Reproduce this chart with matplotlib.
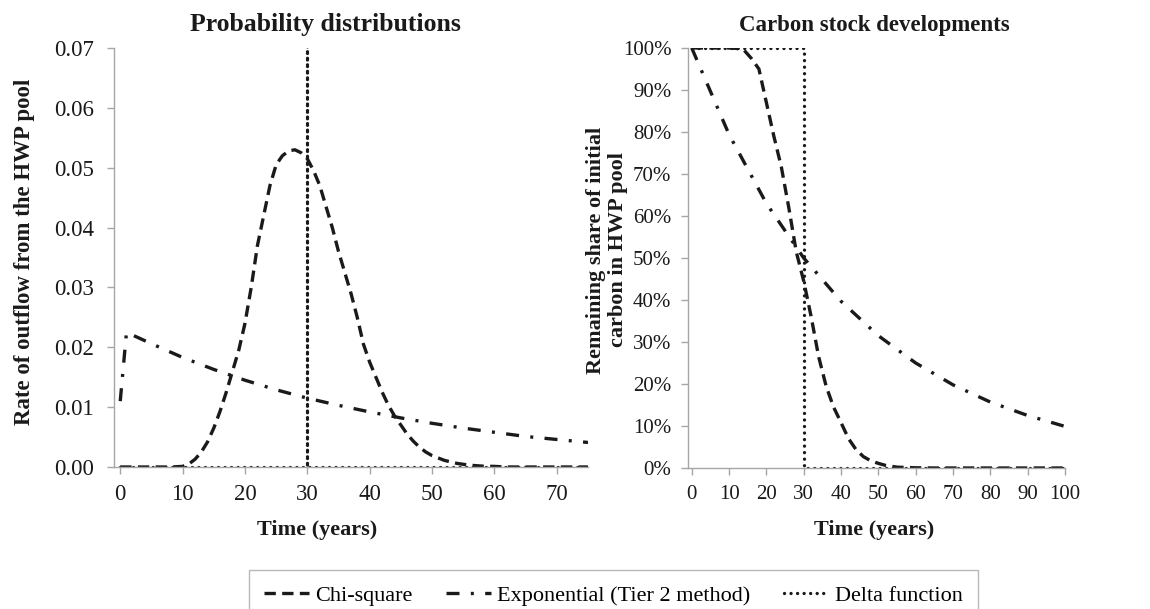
import matplotlib
matplotlib.use("Agg")
import matplotlib.pyplot as plt
from matplotlib.lines import Line2D
from matplotlib.ticker import FuncFormatter

plt.rcParams['font.family'] = ['Liberation Serif', 'DejaVu Serif']

# ---- Left panel: probability distributions ----
chi_pdf_x = [0, 2, 4, 6, 8, 10, 11, 12, 13, 14, 15, 16, 17, 18, 19, 20, 21, 22, 23, 24, 25,
             26, 27, 28, 29, 30, 31, 32, 33, 34, 35, 36, 37, 38, 39, 40, 41, 42, 43, 44,
             45, 46, 47, 48, 49, 50, 52, 54, 56, 58, 60, 62, 65, 70, 75]
chi_pdf_y = [0, 0, 0, 0, 0, 0.0001, 0.0005, 0.0013, 0.0025, 0.0042, 0.0065, 0.0093, 0.0125,
             0.016, 0.0195, 0.024, 0.030, 0.037, 0.042, 0.047, 0.0505, 0.052, 0.0528, 0.053,
             0.0525, 0.0515, 0.0495, 0.047, 0.0435, 0.040, 0.036, 0.0325, 0.029, 0.025, 0.0205,
             0.0175, 0.015, 0.0125, 0.0103, 0.0085, 0.007, 0.0055, 0.0043, 0.0033, 0.0025,
             0.0019, 0.0011, 0.0006, 0.0003, 0.00015, 0.0001, 0, 0, 0, 0]

exp_pdf_x = [0, 1, 5, 10, 15, 20, 25, 30, 35, 40, 45, 50, 55, 60, 65, 70, 75]
exp_pdf_y = [0.011, 0.0225, 0.0206, 0.0183, 0.0163, 0.0145, 0.0129, 0.0115, 0.0103, 0.0092,
             0.0082, 0.0073, 0.0065, 0.0058, 0.0051, 0.0046, 0.0041]

delta_pdf_x = [0, 30, 30, 30, 75]
delta_pdf_y = [0, 0, 1.0, 0, 0]

# ---- Right panel: carbon stock developments ----
chi_stock_x = [0, 5, 10, 12, 14, 16, 18, 20, 22, 24, 26, 28, 30, 32, 34, 36, 38, 40, 42, 44,
               46, 48, 50, 52, 55, 60, 65, 70, 80, 90, 100]
chi_stock_y = [1.0, 1.0, 1.0, 0.999, 0.995, 0.975, 0.95, 0.87, 0.79, 0.717, 0.62, 0.515,
               0.445, 0.36, 0.265, 0.195, 0.145, 0.108, 0.07, 0.044, 0.027, 0.017, 0.011,
               0.006, 0.002, 0.0005, 0, 0, 0, 0, 0]

exp_stock_x = [0, 10, 20, 30, 40, 50, 60, 70, 80, 90, 100]
exp_stock_y = [1.0, 0.794, 0.630, 0.500, 0.397, 0.315, 0.250, 0.198, 0.157, 0.125, 0.099]

delta_stock_x = [0, 30, 30, 100]
delta_stock_y = [1.0, 1.0, 0, 0]

series_labels = ["Chi-square", "Exponential (Tier 2 method)", "Delta function"]
left_xticks = [0, 10, 20, 30, 40, 50, 60, 70]
left_yticks = [0, 0.01, 0.02, 0.03, 0.04, 0.05, 0.06, 0.07]
right_xticks = [0, 10, 20, 30, 40, 50, 60, 70, 80, 90, 100]
right_yticks = [0, 0.1, 0.2, 0.3, 0.4, 0.5, 0.6, 0.7, 0.8, 0.9, 1.0]

W, H = 1150, 609
fig = plt.figure(figsize=(W / 100, H / 100), dpi=100)

line_col = '#1a1a1a'
spine_col = '#a6a6a6'
lw = 2.4
chi_style = dict(color=line_col, lw=lw, linestyle=(0, (3.4, 1.9)), dash_capstyle='butt')
exp_style = dict(color=line_col, lw=lw, linestyle=(0, (3.9, 3.4, 0.9, 3.4)), dash_capstyle='butt')
delta_style = dict(color=line_col, lw=2.4, linestyle=(0, (0.01, 1.95)), dash_capstyle='round')

def px_axes(l, r, t, b):
    return fig.add_axes([l / W, 1 - b / H, (r - l) / W, (b - t) / H])

axL = px_axes(114, 588, 48, 467)
axR = px_axes(688, 1065, 48, 468)

for ax, fs in ((axL, 16.5), (axR, 15)):
    for s in ('top', 'right'):
        ax.spines[s].set_visible(False)
    for s in ('left', 'bottom'):
        ax.spines[s].set_color(spine_col)
        ax.spines[s].set_linewidth(1.0)
    ax.tick_params(axis='both', direction='out', length=5, width=1.0, color=spine_col,
                   labelsize=fs, labelcolor='#1a1a1a')
    ax.tick_params(axis='x', pad=7)
axL.tick_params(axis='y', pad=9.5)
axR.tick_params(axis='y', pad=7)

# Left
axL.plot(chi_pdf_x, chi_pdf_y, **chi_style)
axL.plot(exp_pdf_x, exp_pdf_y, **exp_style)
axL.plot(delta_pdf_x, delta_pdf_y, **delta_style)
axL.set_xlim(-1, 75)
axL.set_ylim(0, 0.07)
axL.set_xticks(left_xticks)
axL.set_yticks(left_yticks)
axL.yaxis.set_major_formatter(FuncFormatter(lambda v, p: f"{v:.2f}"))

# Right
axR.plot(chi_stock_x, chi_stock_y, **chi_style)
axR.plot(exp_stock_x, exp_stock_y, **exp_style)
axR.plot(delta_stock_x, delta_stock_y, **delta_style)
axR.set_xlim(-1, 100)
axR.set_ylim(0, 1.0)
axR.set_xticks(right_xticks)
axR.set_yticks(right_yticks)
axR.yaxis.set_major_formatter(FuncFormatter(lambda v, p: f"{v * 100:.0f}%"))

# Titles and labels
base = dict(fontweight='bold', color='#1a1a1a', ha='center', va='center')
fig.text(325 / W, 1 - 25 / H, "Probability distributions", fontsize=18.5, **base)
fig.text(874 / W, 1 - 25 / H, "Carbon stock developments", fontsize=16.5, **base)
fig.text(317 / W, 1 - 530 / H, "Time (years)", fontsize=16, **base)
fig.text(874 / W, 1 - 530 / H, "Time (years)", fontsize=16, **base)
fig.text(25 / W, 1 - 252 / H, "Rate of outflow from the HWP pool", rotation=90,
         fontsize=16.5, **base)
fig.text(607 / W, 1 - 250 / H, "Remaining share of initial\ncarbon in HWP pool", rotation=90,
         linespacing=1.15, fontsize=16, **base)

# Legend
handles = [Line2D([], [], **chi_style), Line2D([], [], **exp_style), Line2D([], [], **delta_style)]
leg = fig.legend(handles, series_labels, loc='upper center', bbox_to_anchor=(613.5 / W, 1 - 559 / H),
                 ncol=3, frameon=True, fancybox=False, fontsize=16, handlelength=2.0,
                 handletextpad=0.3, columnspacing=1.5, borderpad=0.7)
leg.get_frame().set_edgecolor(spine_col)
leg.get_frame().set_linewidth(1.0)

fig.savefig("out.png", dpi=100)
